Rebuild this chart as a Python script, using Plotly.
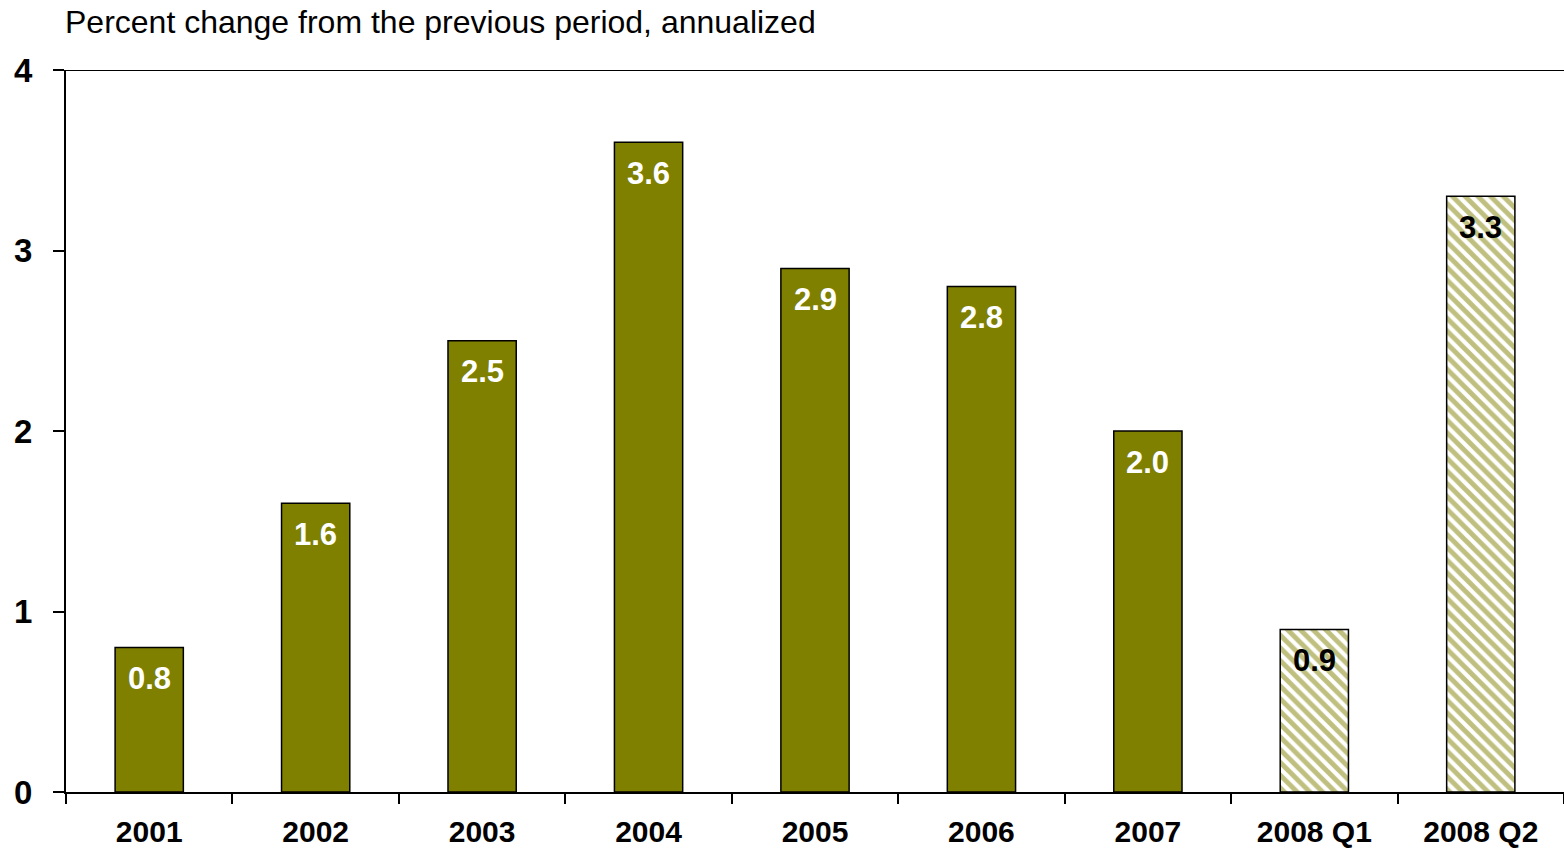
import plotly.graph_objects as go

# Real GDP growth, percent change from the previous period, annualized
periods = ["2001", "2002", "2003", "2004", "2005", "2006", "2007", "2008 Q1", "2008 Q2"]
growth = [0.8, 1.6, 2.5, 3.6, 2.9, 2.8, 2.0, 0.9, 3.3]
is_quarterly = [False] * 7 + [True, True]

olive = "#808000"
font_family = "Liberation Sans, Arial, sans-serif"
label_size = 31

fig = go.Figure()

annual_x = [p for p, q in zip(periods, is_quarterly) if not q]
annual_y = [v for v, q in zip(growth, is_quarterly) if not q]
quarter_x = [p for p, q in zip(periods, is_quarterly) if q]
quarter_y = [v for v, q in zip(growth, is_quarterly) if q]

fig.add_trace(go.Bar(
    x=annual_x, y=annual_y,
    marker=dict(color=olive, line=dict(color="black", width=1.5)),
    width=0.41, hoverinfo="x+y",
))
fig.add_trace(go.Bar(
    x=quarter_x, y=quarter_y,
    marker=dict(
        color="white",
        line=dict(color="black", width=1.5),
        pattern=dict(shape="\\", fgcolor=olive, bgcolor="white", size=9, solidity=0.55),
    ),
    width=0.41, hoverinfo="x+y",
))

# Value labels just inside the top of each bar (x given as category index)
for i, (v, q) in enumerate(zip(growth, is_quarterly)):
    fig.add_annotation(
        x=i, y=v, text=f"<b>{v:.1f}</b>", showarrow=False,
        yanchor="middle", yshift=-31,
        font=dict(family=font_family, size=label_size, color="black" if q else "white"),
    )

# Top frame line at 4
fig.add_shape(type="line", xref="paper", yref="y", x0=0, x1=1, y0=4, y1=4,
              line=dict(color="black", width=2))

fig.add_annotation(
    xref="paper", yref="paper", x=-0.002, y=1, yshift=28,
    xanchor="left", yanchor="bottom", showarrow=False,
    text="Percent change from the previous period, annualized",
    font=dict(family=font_family, size=32, color="black"),
)

fig.update_layout(
    width=1564, height=851,
    margin=dict(l=66, r=0, t=70, b=59, autoexpand=False),
    paper_bgcolor="white", plot_bgcolor="white",
    showlegend=False, barmode="overlay",
    font=dict(family=font_family, color="black"),
)
fig.update_xaxes(
    type="category", categoryorder="array", categoryarray=periods,
    range=[-0.5, 8.5], automargin=False,
    showline=True, linecolor="black", linewidth=2,
    ticks="outside", tickson="boundaries", ticklen=10, tickwidth=2, tickcolor="black",
    tickfont=dict(family=font_family, size=30, color="black"),
    tickvals=periods, ticktext=[f"<b>{p}</b>" for p in periods],
    ticklabelstandoff=12,
    showgrid=False, zeroline=False,
)
fig.update_yaxes(
    range=[0, 4], tickvals=[0, 1, 2, 3, 4], automargin=False,
    ticktext=["<b>0</b>", "<b>1</b>", "<b>2</b>", "<b>3</b>", "<b>4</b>"],
    showline=True, linecolor="black", linewidth=2,
    ticks="outside", ticklen=11, tickwidth=2, tickcolor="black",
    tickfont=dict(family=font_family, size=33, color="black"),
    ticklabelstandoff=14,
    showgrid=False, zeroline=False,
)

fig.write_html("out.html")
